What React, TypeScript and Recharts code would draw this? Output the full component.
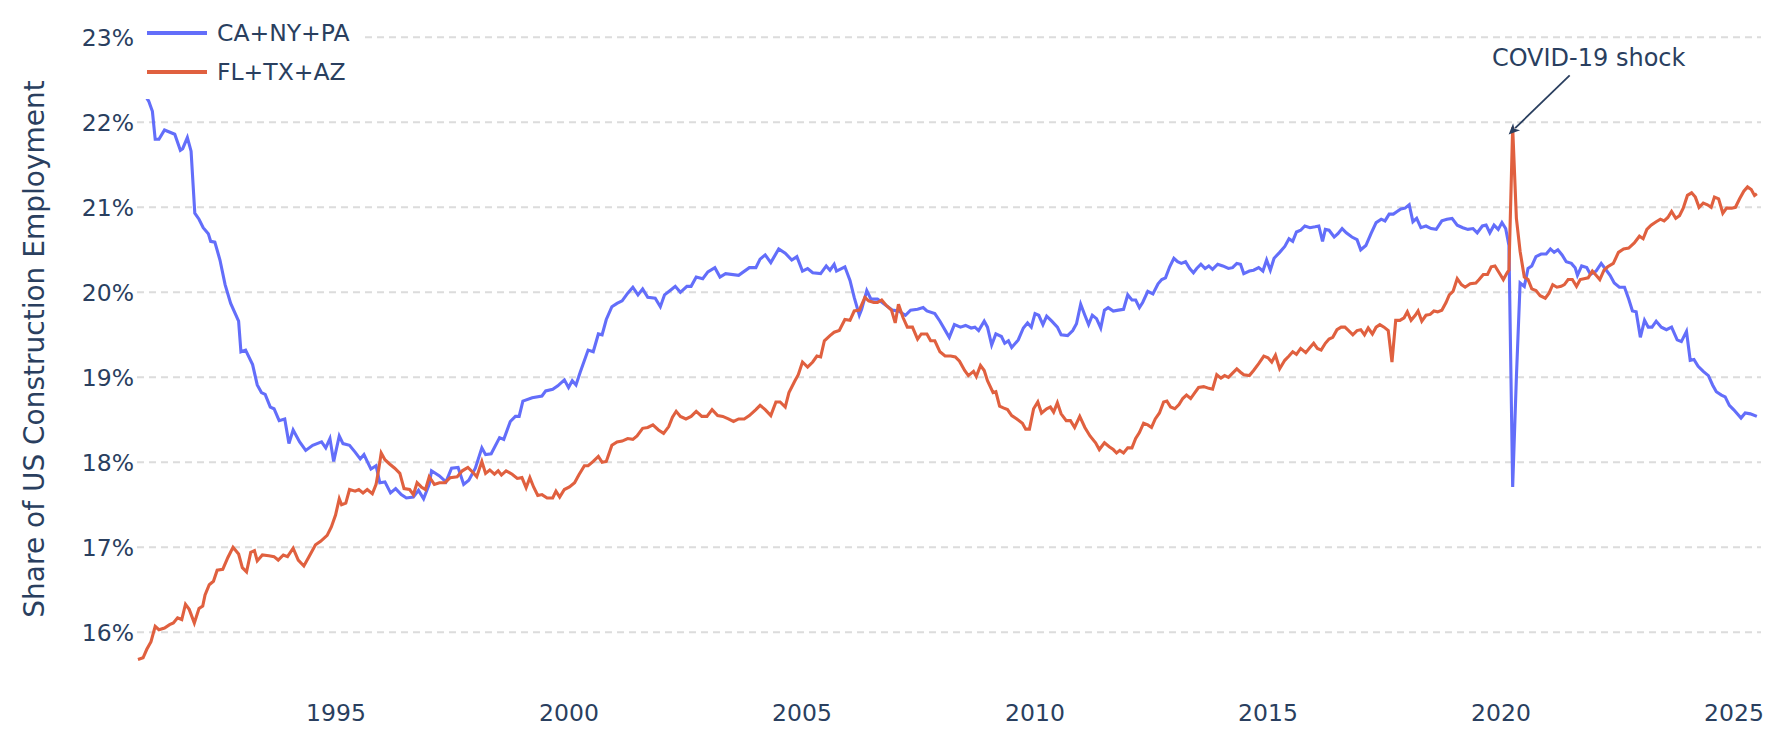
import React from 'react';
import { LineChart, Line, XAxis, YAxis, ReferenceLine, ReferenceDot, Label } from 'recharts';

const FONT = '"DejaVu Sans", Verdana, sans-serif';
const TEXT = '#2a3f5f';
const BLUE = '#636efa';
const RED = '#e0603f';

const xTicks = [1995, 2000, 2005, 2010, 2015, 2020, 2025];
const yTicks = [16, 17, 18, 19, 20, 21, 22, 23];
const seriesNames = ['CA+NY+PA', 'FL+TX+AZ'];
const yTitle = 'Share of US Construction Employment';
const annotationText = 'COVID-19 shock';
const covidPoint: [number, number] = [2020.25, 21.94];

// [year (decimal), share %]
const caNyPa: [number, number][] = [
  [1990.75, 22.45], [1990.85, 22.36], [1990.98, 22.25], [1991.06, 22.13], [1991.12, 21.8], [1991.2, 21.8], [1991.32, 21.91], [1991.54, 21.86], [1991.66, 21.67], [1991.71, 21.69], [1991.81, 21.82], [1991.89, 21.66],
  [1991.97, 20.93], [1992.06, 20.86], [1992.15, 20.76], [1992.26, 20.69], [1992.31, 20.6], [1992.4, 20.59], [1992.51, 20.38], [1992.62, 20.09], [1992.74, 19.87], [1992.91, 19.66], [1992.96, 19.3],
  [1993.06, 19.32], [1993.21, 19.15], [1993.31, 18.91], [1993.4, 18.82], [1993.48, 18.8], [1993.59, 18.65], [1993.67, 18.63], [1993.78, 18.49], [1993.9, 18.51], [1993.99, 18.22],
  [1994.08, 18.38], [1994.22, 18.24], [1994.35, 18.14], [1994.5, 18.2], [1994.69, 18.24], [1994.78, 18.17], [1994.87, 18.28], [1994.95, 18.01],
  [1995.07, 18.31], [1995.15, 18.22], [1995.29, 18.2], [1995.41, 18.12], [1995.52, 18.04], [1995.6, 18.09], [1995.75, 17.92], [1995.86, 17.96], [1995.94, 17.76],
  [1996.05, 17.77], [1996.17, 17.64], [1996.28, 17.69], [1996.4, 17.62], [1996.51, 17.58], [1996.66, 17.59], [1996.77, 17.67], [1996.88, 17.57],
  [1997.0, 17.74], [1997.05, 17.9], [1997.22, 17.84], [1997.36, 17.77], [1997.48, 17.93], [1997.62, 17.94], [1997.74, 17.74], [1997.85, 17.79], [1997.99, 17.93],
  [1998.13, 18.17], [1998.21, 18.09], [1998.33, 18.1], [1998.51, 18.29], [1998.6, 18.27], [1998.74, 18.48], [1998.85, 18.54], [1998.93, 18.54],
  [1999.01, 18.72], [1999.21, 18.76], [1999.42, 18.78], [1999.5, 18.84], [1999.65, 18.86], [1999.76, 18.9], [1999.9, 18.97], [1999.99, 18.88],
  [2000.07, 18.96], [2000.15, 18.91], [2000.24, 19.06], [2000.41, 19.32], [2000.52, 19.3], [2000.63, 19.51], [2000.71, 19.5], [2000.8, 19.68], [2000.92, 19.83],
  [2001.03, 19.87], [2001.14, 19.9], [2001.26, 19.99], [2001.37, 20.06], [2001.48, 19.97], [2001.58, 20.04], [2001.69, 19.94], [2001.85, 19.93], [2001.96, 19.83],
  [2002.05, 19.97], [2002.19, 20.03], [2002.28, 20.07], [2002.39, 20.0], [2002.53, 20.07], [2002.62, 20.07], [2002.73, 20.18], [2002.87, 20.16], [2002.98, 20.24],
  [2003.13, 20.29], [2003.24, 20.18], [2003.36, 20.22], [2003.64, 20.2], [2003.87, 20.29],
  [2004.01, 20.29], [2004.1, 20.39], [2004.21, 20.44], [2004.33, 20.35], [2004.5, 20.51], [2004.64, 20.46], [2004.78, 20.38], [2004.89, 20.42],
  [2005.01, 20.25], [2005.12, 20.28], [2005.23, 20.23], [2005.4, 20.22], [2005.52, 20.31], [2005.6, 20.26], [2005.69, 20.33], [2005.74, 20.25], [2005.92, 20.3],
  [2006.03, 20.14], [2006.12, 19.94], [2006.23, 19.73], [2006.28, 19.8], [2006.39, 20.02], [2006.48, 19.92], [2006.62, 19.92], [2006.77, 19.86], [2006.94, 19.79],
  [2007.07, 19.78], [2007.22, 19.73], [2007.33, 19.79], [2007.48, 19.8], [2007.6, 19.82], [2007.68, 19.78], [2007.85, 19.75], [2007.96, 19.66],
  [2008.16, 19.47], [2008.27, 19.62], [2008.4, 19.59], [2008.51, 19.61], [2008.63, 19.58], [2008.71, 19.59], [2008.79, 19.55], [2008.91, 19.66], [2008.98, 19.59],
  [2009.07, 19.38], [2009.16, 19.51], [2009.28, 19.48], [2009.35, 19.4], [2009.43, 19.43], [2009.5, 19.35], [2009.64, 19.44], [2009.75, 19.58], [2009.84, 19.64], [2009.92, 19.59],
  [2010.0, 19.75], [2010.08, 19.73], [2010.17, 19.62], [2010.25, 19.72], [2010.36, 19.66], [2010.48, 19.59], [2010.56, 19.5], [2010.7, 19.49], [2010.81, 19.55], [2010.89, 19.63], [2010.98, 19.86],
  [2011.07, 19.73], [2011.15, 19.62], [2011.23, 19.73], [2011.32, 19.69], [2011.41, 19.58], [2011.49, 19.79], [2011.57, 19.82], [2011.68, 19.78], [2011.79, 19.79], [2011.9, 19.8], [2011.99, 19.97],
  [2012.08, 19.91], [2012.16, 19.91], [2012.24, 19.82], [2012.31, 19.88], [2012.42, 20.01], [2012.53, 19.98], [2012.64, 20.1], [2012.72, 20.15], [2012.8, 20.17], [2012.89, 20.3], [2012.98, 20.4],
  [2013.06, 20.36], [2013.14, 20.34], [2013.23, 20.36], [2013.32, 20.28], [2013.4, 20.23], [2013.47, 20.28], [2013.56, 20.33], [2013.65, 20.28], [2013.73, 20.31], [2013.81, 20.27], [2013.92, 20.33],
  [2014.03, 20.31], [2014.15, 20.28], [2014.24, 20.29], [2014.33, 20.34], [2014.41, 20.33], [2014.48, 20.22], [2014.6, 20.25], [2014.69, 20.26], [2014.8, 20.29], [2014.89, 20.25], [2014.97, 20.38],
  [2015.05, 20.26], [2015.13, 20.4], [2015.25, 20.47], [2015.36, 20.54], [2015.45, 20.63], [2015.53, 20.6], [2015.61, 20.71], [2015.7, 20.73], [2015.79, 20.78], [2015.9, 20.76],
  [2016.01, 20.77], [2016.09, 20.78], [2016.17, 20.6], [2016.23, 20.74], [2016.31, 20.73], [2016.42, 20.65], [2016.5, 20.69], [2016.59, 20.75], [2016.68, 20.7], [2016.8, 20.65], [2016.91, 20.62], [2016.99, 20.5],
  [2017.1, 20.55], [2017.21, 20.69], [2017.32, 20.82], [2017.43, 20.86], [2017.51, 20.84], [2017.6, 20.92], [2017.69, 20.92], [2017.77, 20.95], [2017.85, 20.98], [2017.94, 20.99],
  [2018.03, 21.03], [2018.11, 20.83], [2018.19, 20.87], [2018.28, 20.76], [2018.39, 20.78], [2018.5, 20.75], [2018.61, 20.74], [2018.73, 20.84], [2018.84, 20.86], [2018.95, 20.87],
  [2019.06, 20.79], [2019.18, 20.76], [2019.29, 20.74], [2019.4, 20.75], [2019.49, 20.7], [2019.6, 20.78], [2019.68, 20.79], [2019.76, 20.7], [2019.85, 20.79], [2019.94, 20.74],
  [2020.02, 20.82], [2020.1, 20.75], [2020.17, 20.55], [2020.25, 17.71], [2020.33, 19.0], [2020.41, 20.11], [2020.5, 20.07], [2020.58, 20.28], [2020.66, 20.31], [2020.75, 20.42], [2020.86, 20.45], [2020.97, 20.45],
  [2021.06, 20.51], [2021.14, 20.47], [2021.22, 20.5], [2021.31, 20.44], [2021.4, 20.36], [2021.51, 20.34], [2021.59, 20.29], [2021.64, 20.2], [2021.73, 20.31], [2021.84, 20.29], [2021.92, 20.21],
  [2022.04, 20.25], [2022.15, 20.34], [2022.26, 20.26], [2022.34, 20.2], [2022.43, 20.11], [2022.54, 20.06], [2022.65, 20.06], [2022.74, 19.92], [2022.82, 19.78], [2022.9, 19.77], [2022.99, 19.47],
  [2023.08, 19.67], [2023.16, 19.59], [2023.24, 19.59], [2023.33, 19.66], [2023.44, 19.59], [2023.55, 19.56], [2023.66, 19.59], [2023.78, 19.44], [2023.87, 19.42], [2023.98, 19.54],
  [2024.06, 19.2], [2024.14, 19.21], [2024.23, 19.13], [2024.34, 19.07], [2024.45, 19.02], [2024.54, 18.91], [2024.62, 18.83], [2024.73, 18.79], [2024.81, 18.77], [2024.9, 18.67], [2024.99, 18.62],
  [2025.07, 18.57], [2025.15, 18.52], [2025.24, 18.58], [2025.35, 18.57], [2025.49, 18.54],
];

const flTxAz: [number, number][] = [
  [1990.75, 15.68], [1990.86, 15.7], [1990.94, 15.8], [1991.03, 15.89], [1991.12, 16.07], [1991.2, 16.03], [1991.32, 16.05], [1991.43, 16.09], [1991.51, 16.11], [1991.6, 16.17], [1991.69, 16.15], [1991.77, 16.33], [1991.85, 16.27], [1991.96, 16.11],
  [1992.06, 16.28], [1992.14, 16.31], [1992.19, 16.44], [1992.28, 16.56], [1992.37, 16.6], [1992.45, 16.73], [1992.57, 16.74], [1992.68, 16.88], [1992.79, 17.0], [1992.91, 16.92], [1992.99, 16.76],
  [1993.08, 16.71], [1993.17, 16.94], [1993.25, 16.96], [1993.31, 16.84], [1993.42, 16.91], [1993.56, 16.9], [1993.67, 16.89], [1993.76, 16.85], [1993.87, 16.91], [1993.96, 16.89],
  [1994.08, 16.99], [1994.19, 16.85], [1994.31, 16.78], [1994.42, 16.89], [1994.56, 17.03], [1994.67, 17.07], [1994.81, 17.14], [1994.9, 17.24], [1994.99, 17.38],
  [1995.07, 17.57], [1995.12, 17.5], [1995.21, 17.52], [1995.29, 17.68], [1995.41, 17.66], [1995.49, 17.68], [1995.58, 17.64], [1995.67, 17.68], [1995.78, 17.63], [1995.86, 17.74], [1995.92, 17.93], [1995.97, 18.11],
  [1996.05, 18.03], [1996.15, 17.98], [1996.26, 17.93], [1996.37, 17.87], [1996.46, 17.69], [1996.58, 17.68], [1996.66, 17.62], [1996.74, 17.76], [1996.83, 17.71], [1996.92, 17.68],
  [1997.0, 17.83], [1997.11, 17.74], [1997.22, 17.76], [1997.34, 17.76], [1997.45, 17.82], [1997.6, 17.83], [1997.71, 17.9], [1997.83, 17.94], [1997.94, 17.88],
  [1998.02, 17.83], [1998.13, 18.01], [1998.21, 17.87], [1998.3, 17.91], [1998.4, 17.86], [1998.48, 17.9], [1998.55, 17.85], [1998.65, 17.9], [1998.78, 17.86], [1998.89, 17.81], [1998.99, 17.82],
  [1999.08, 17.7], [1999.16, 17.82], [1999.24, 17.71], [1999.33, 17.61], [1999.42, 17.62], [1999.53, 17.58], [1999.65, 17.58], [1999.72, 17.66], [1999.8, 17.59], [1999.9, 17.68],
  [2000.01, 17.71], [2000.12, 17.76], [2000.21, 17.85], [2000.33, 17.96], [2000.41, 17.96], [2000.52, 18.01], [2000.63, 18.07], [2000.71, 18.0], [2000.8, 18.01], [2000.92, 18.2],
  [2001.03, 18.24], [2001.14, 18.25], [2001.26, 18.28], [2001.37, 18.27], [2001.46, 18.31], [2001.58, 18.4], [2001.69, 18.41], [2001.8, 18.44], [2001.92, 18.38],
  [2002.03, 18.34], [2002.14, 18.42], [2002.22, 18.53], [2002.3, 18.6], [2002.39, 18.54], [2002.51, 18.51], [2002.62, 18.54], [2002.73, 18.6], [2002.85, 18.54], [2002.96, 18.54],
  [2003.07, 18.62], [2003.19, 18.55], [2003.3, 18.54], [2003.42, 18.51], [2003.53, 18.48], [2003.64, 18.51], [2003.76, 18.51], [2003.87, 18.55],
  [2004.01, 18.62], [2004.1, 18.67], [2004.21, 18.62], [2004.33, 18.55], [2004.44, 18.71], [2004.53, 18.71], [2004.64, 18.65], [2004.72, 18.82], [2004.84, 18.95], [2004.92, 19.03],
  [2005.01, 19.18], [2005.12, 19.12], [2005.23, 19.18], [2005.32, 19.25], [2005.4, 19.24], [2005.48, 19.43], [2005.6, 19.49], [2005.69, 19.53], [2005.8, 19.55], [2005.92, 19.68],
  [2006.03, 19.67], [2006.12, 19.78], [2006.23, 19.79], [2006.35, 19.94], [2006.43, 19.9], [2006.54, 19.88], [2006.62, 19.88], [2006.71, 19.91], [2006.8, 19.85], [2006.92, 19.79],
  [2007.0, 19.64], [2007.07, 19.86], [2007.17, 19.7], [2007.26, 19.59], [2007.37, 19.59], [2007.48, 19.45], [2007.56, 19.51], [2007.68, 19.51], [2007.76, 19.43], [2007.85, 19.43], [2007.96, 19.3],
  [2008.07, 19.25], [2008.19, 19.25], [2008.29, 19.24], [2008.38, 19.19], [2008.49, 19.08], [2008.57, 19.02], [2008.68, 19.07], [2008.74, 19.01], [2008.83, 19.14], [2008.91, 19.08], [2008.98, 18.96],
  [2009.1, 18.82], [2009.16, 18.83], [2009.24, 18.66], [2009.32, 18.64], [2009.41, 18.62], [2009.5, 18.55], [2009.61, 18.51], [2009.73, 18.46], [2009.8, 18.39], [2009.88, 18.39], [2009.97, 18.63],
  [2010.06, 18.71], [2010.14, 18.58], [2010.25, 18.63], [2010.33, 18.65], [2010.4, 18.59], [2010.48, 18.7], [2010.56, 18.57], [2010.67, 18.49], [2010.76, 18.49], [2010.85, 18.41], [2010.96, 18.54],
  [2011.07, 18.41], [2011.18, 18.31], [2011.3, 18.23], [2011.38, 18.15], [2011.49, 18.23], [2011.6, 18.18], [2011.68, 18.15], [2011.75, 18.11], [2011.82, 18.14], [2011.9, 18.11], [2011.99, 18.17],
  [2012.08, 18.17], [2012.16, 18.28], [2012.24, 18.35], [2012.33, 18.46], [2012.42, 18.44], [2012.5, 18.41], [2012.58, 18.51], [2012.67, 18.58], [2012.76, 18.71], [2012.83, 18.72], [2012.91, 18.65],
  [2013.0, 18.63], [2013.09, 18.68], [2013.17, 18.75], [2013.25, 18.79], [2013.34, 18.75], [2013.43, 18.82], [2013.51, 18.88], [2013.62, 18.89], [2013.73, 18.87], [2013.81, 18.86], [2013.9, 19.03], [2013.99, 18.99],
  [2014.07, 19.02], [2014.15, 19.0], [2014.24, 19.05], [2014.33, 19.1], [2014.41, 19.06], [2014.48, 19.03], [2014.6, 19.02], [2014.69, 19.08], [2014.8, 19.16], [2014.91, 19.25],
  [2015.0, 19.23], [2015.08, 19.18], [2015.16, 19.26], [2015.25, 19.1], [2015.36, 19.2], [2015.45, 19.25], [2015.53, 19.3], [2015.61, 19.27], [2015.7, 19.34], [2015.81, 19.29], [2015.9, 19.35], [2015.98, 19.4],
  [2016.06, 19.34], [2016.14, 19.32], [2016.23, 19.4], [2016.31, 19.45], [2016.39, 19.47], [2016.48, 19.56], [2016.57, 19.59], [2016.65, 19.59], [2016.73, 19.55], [2016.82, 19.5], [2016.91, 19.55], [2016.99, 19.56],
  [2017.07, 19.5], [2017.15, 19.58], [2017.24, 19.51], [2017.32, 19.59], [2017.4, 19.62], [2017.49, 19.59], [2017.58, 19.55], [2017.66, 19.18], [2017.74, 19.67], [2017.83, 19.67], [2017.92, 19.7], [2017.99, 19.77],
  [2018.07, 19.67], [2018.16, 19.73], [2018.22, 19.78], [2018.3, 19.66], [2018.39, 19.73], [2018.48, 19.74], [2018.56, 19.78], [2018.64, 19.77], [2018.73, 19.79], [2018.82, 19.88], [2018.89, 19.97], [2018.97, 20.01],
  [2019.06, 20.16], [2019.15, 20.09], [2019.23, 20.06], [2019.34, 20.1], [2019.46, 20.11], [2019.53, 20.15], [2019.62, 20.21], [2019.71, 20.21], [2019.79, 20.3], [2019.87, 20.31], [2019.96, 20.23],
  [2020.05, 20.15], [2020.13, 20.23], [2020.17, 20.26], [2020.25, 21.94], [2020.33, 20.87], [2020.41, 20.48], [2020.5, 20.18], [2020.58, 20.15], [2020.66, 20.04], [2020.75, 20.02], [2020.84, 19.96], [2020.95, 19.93],
  [2021.03, 19.99], [2021.11, 20.09], [2021.2, 20.06], [2021.29, 20.07], [2021.36, 20.09], [2021.44, 20.15], [2021.53, 20.15], [2021.62, 20.07], [2021.7, 20.15], [2021.78, 20.16], [2021.87, 20.17], [2021.96, 20.25],
  [2022.04, 20.2], [2022.12, 20.15], [2022.21, 20.26], [2022.29, 20.3], [2022.41, 20.34], [2022.52, 20.47], [2022.63, 20.51], [2022.74, 20.52], [2022.86, 20.58], [2022.97, 20.66],
  [2023.05, 20.63], [2023.13, 20.74], [2023.22, 20.79], [2023.33, 20.83], [2023.42, 20.86], [2023.5, 20.84], [2023.58, 20.88], [2023.66, 20.95], [2023.75, 20.87], [2023.83, 20.9], [2023.91, 20.99],
  [2024.0, 21.14], [2024.09, 21.17], [2024.17, 21.12], [2024.25, 21.0], [2024.34, 21.05], [2024.43, 21.03], [2024.51, 21.0], [2024.58, 21.12], [2024.67, 21.1], [2024.76, 20.93], [2024.84, 20.99], [2024.95, 20.99],
  [2025.03, 21.0], [2025.12, 21.1], [2025.21, 21.19], [2025.29, 21.24], [2025.37, 21.21], [2025.44, 21.14], [2025.49, 21.16],
];

const toRows = (pts: [number, number][]) => pts.map(([t, v]) => ({ t, v }));
const caRows = toRows(caNyPa);
const flRows = toRows(flTxAz);

const X_DOMAIN: [number, number] = [1990.7296, 2025.579];
const Y_DOMAIN: [number, number] = [15.2624, 23.2035];

const CovidArrow = (props: any) => {
  const { cx, cy } = props;
  if (cx == null || cy == null || isNaN(cx) || isNaN(cy)) return null;
  const tipX = cx - 4;
  const tipY = cy + 7;
  const tailX = cx + 57;
  const tailY = cy - 52;
  const dx = tipX - tailX;
  const dy = tipY - tailY;
  const len = Math.hypot(dx, dy);
  const ux = dx / len;
  const uy = dy / len;
  const hl = 11;
  const hw = 5;
  const bx = tipX - ux * hl;
  const by = tipY - uy * hl;
  const px = -uy;
  const py = ux;
  return (
    <g>
      <line x1={tailX} y1={tailY} x2={bx + ux * 2} y2={by + uy * 2} stroke={TEXT} strokeWidth={1.8} />
      <polygon
        points={`${tipX},${tipY} ${bx + px * hw},${by + py * hw} ${bx + ux * 3},${by + uy * 3} ${bx - px * hw},${by - py * hw}`}
        fill={TEXT}
      />
      <text
        x={cx + 76}
        y={cy - 69}
        textAnchor="middle"
        dominantBaseline="central"
        fontSize={24}
        fontFamily={FONT}
        fill={TEXT}
      >
        {annotationText}
      </text>
    </g>
  );
};

const YTitle = (props: any) => {
  const vb = props.viewBox || { x: 0, y: 20, width: 137, height: 675 };
  const x = vb.x + 34;
  const y = vb.y + vb.height / 2 - 8.5;
  return (
    <text
      x={x}
      y={y}
      transform={`rotate(-90 ${x} ${y})`}
      textAnchor="middle"
      dominantBaseline="central"
      fontSize={28}
      fontFamily={FONT}
      fill={TEXT}
    >
      {yTitle}
    </text>
  );
};

const legendColors = [BLUE, RED];

export default function App() {
  return (
    <div style={{ position: 'absolute', left: 0, top: 0, width: 1790, height: 732, background: '#fff' }}>
      <LineChart width={1790} height={732} margin={{ top: 20, right: 29, bottom: 0, left: 0 }}>
        <XAxis
          type="number"
          dataKey="t"
          domain={X_DOMAIN}
          allowDataOverflow
          ticks={xTicks}
          interval={0}
          height={37}
          axisLine={false}
          tickLine={false}
          tickSize={0}
          tickMargin={9}
          tick={{ fontSize: 23.5, fontFamily: FONT, fill: TEXT }}
        />
        <YAxis
          type="number"
          domain={Y_DOMAIN}
          allowDataOverflow
          ticks={yTicks}
          interval={0}
          width={137}
          axisLine={false}
          tickLine={false}
          tickSize={0}
          tickMargin={3}
          tickFormatter={(v: number) => `${v}%`}
          tick={{ fontSize: 23.5, fontFamily: FONT, fill: TEXT }}
        >
          <Label content={YTitle} />
        </YAxis>
        {yTicks.map((v) => (
          <ReferenceLine key={v} y={v} stroke="#dcdcdc" strokeWidth={2} strokeDasharray="7 5" ifOverflow="visible" />
        ))}
        <Line
          data={caRows}
          dataKey="v"
          name={seriesNames[0]}
          type="linear"
          stroke={BLUE}
          strokeWidth={3.1}
          dot={false}
          activeDot={false}
          isAnimationActive={false}
        />
        <Line
          data={flRows}
          dataKey="v"
          name={seriesNames[1]}
          type="linear"
          stroke={RED}
          strokeWidth={3.1}
          dot={false}
          activeDot={false}
          isAnimationActive={false}
        />
        <ReferenceDot x={covidPoint[0]} y={covidPoint[1]} r={0} ifOverflow="visible" shape={CovidArrow} />
      </LineChart>
      <div
        style={{
          position: 'absolute',
          left: 137,
          top: 13,
          width: 227,
          height: 86,
          background: '#fff',
          fontFamily: FONT,
          fontSize: 23.5,
          color: TEXT,
          zIndex: 2,
        }}
      >
        {seriesNames.map((name, i) => (
          <div
            key={name}
            style={{
              position: 'absolute',
              left: 10,
              top: 20.3 + i * 38.4 - 15,
              height: 30,
              display: 'flex',
              alignItems: 'center',
              whiteSpace: 'nowrap',
            }}
          >
            <svg width={60} height={6} style={{ display: 'block', marginRight: 10 }}>
              <line x1={0} y1={3} x2={60} y2={3} stroke={legendColors[i]} strokeWidth={4} />
            </svg>
            <span style={{ lineHeight: '30px' }}>{name}</span>
          </div>
        ))}
      </div>
    </div>
  );
}
